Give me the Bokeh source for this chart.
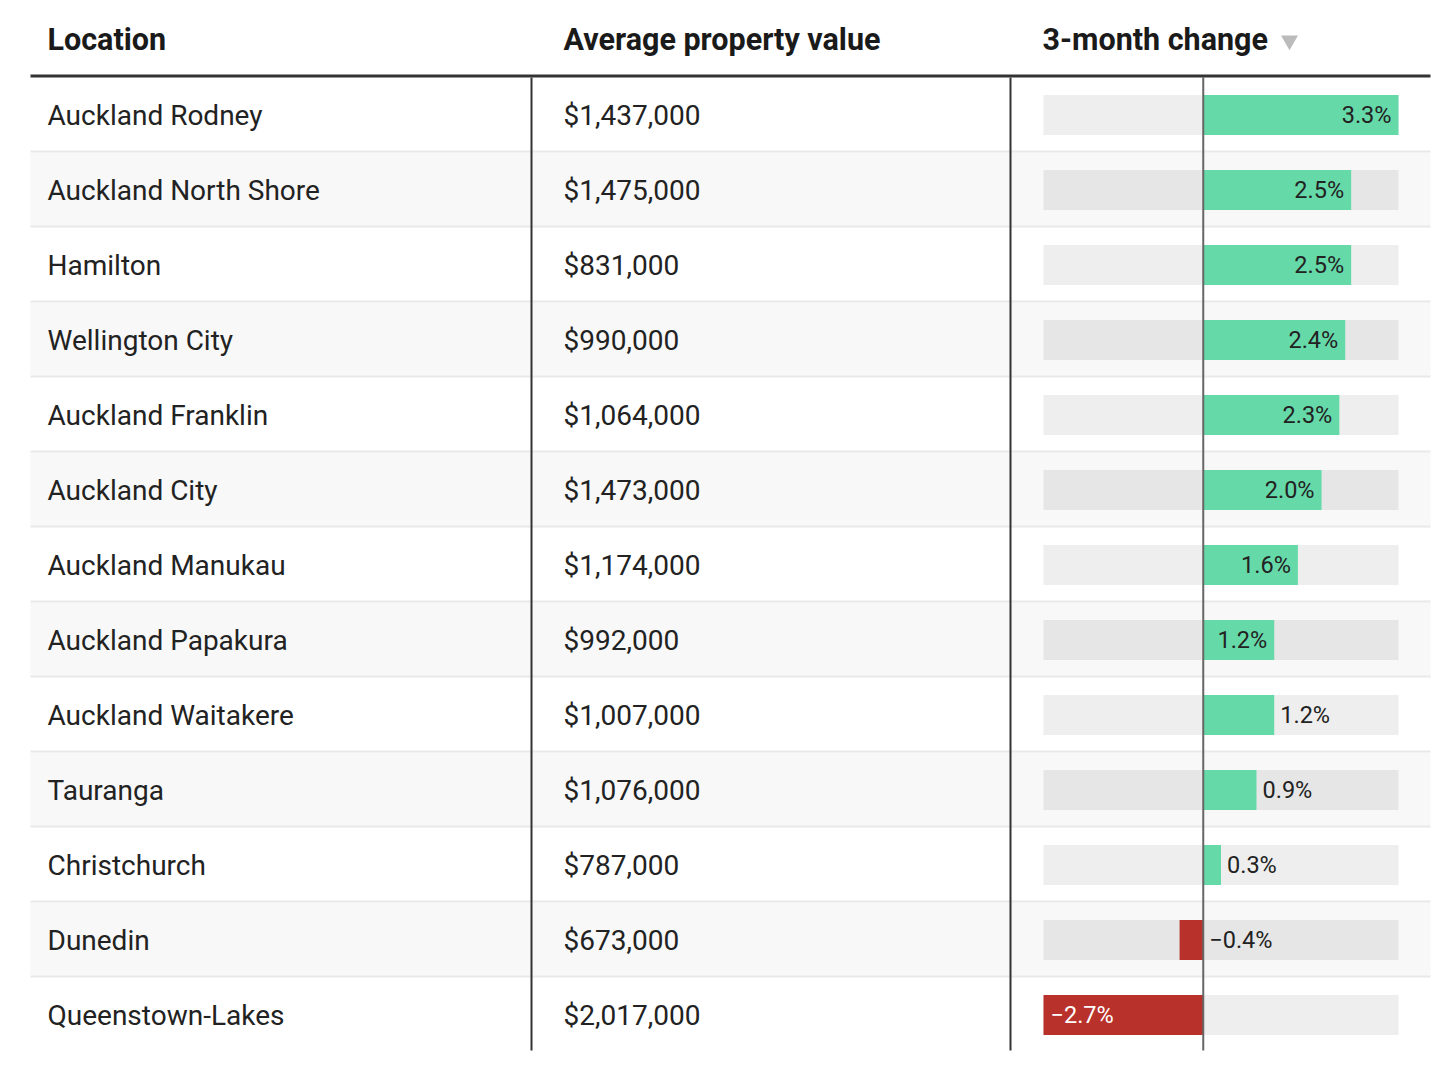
from bokeh.plotting import figure
from bokeh.models import ColumnDataSource, Range1d
from bokeh.core.properties import value
from bokeh.embed import file_html
from bokeh.resources import INLINE

# ---------------- data ----------------
locations = ["Auckland Rodney", "Auckland North Shore", "Hamilton", "Wellington City",
             "Auckland Franklin", "Auckland City", "Auckland Manukau", "Auckland Papakura",
             "Auckland Waitakere", "Tauranga", "Christchurch", "Dunedin", "Queenstown-Lakes"]
property_values = [1437000, 1475000, 831000, 990000, 1064000, 1473000, 1174000,
                   992000, 1007000, 1076000, 787000, 673000, 2017000]
change_3m = [3.3, 2.5, 2.5, 2.4, 2.3, 2.0, 1.6, 1.2, 1.2, 0.9, 0.3, -0.4, -2.7]
label_inside = [True, True, True, True, True, True, True, True, False, False, False, False, True]
headers = ["Location", "Average property value", "3-month change"]

# ---------------- layout (canvas px) ----------------
W, H = 1440, 1066
TABLE_L, TABLE_R = 30, 1430
ROW_TOP, ROW_H = 77, 75
COL_X = [531, 1010]
TEXT_X = [47, 563, 1042]
BAR_L, BAR_R, BAR_H = 1043, 1398, 40
FONT = "Roboto"
TXT = "#222222"

n = len(locations)
vmin, vmax = min(change_3m), max(change_3m)
scale = (BAR_R - BAR_L) / (vmax - vmin)
pct_start = vmin - BAR_L / scale
pct_end = pct_start + W / scale

p = figure(width=W, height=H, x_range=Range1d(0, W), y_range=Range1d(H, 0),
           x_axis_type=None, y_axis_type=None, toolbar_location=None,
           output_backend="svg", min_border=0)
p.outline_line_color = None
p.grid.visible = False
p.background_fill_color = "white"
p.border_fill_color = "white"
p.extra_x_ranges = {"pct": Range1d(pct_start, pct_end)}

yc = [ROW_TOP + ROW_H * i + ROW_H / 2 for i in range(n)]
row_fill = ["#ffffff" if i % 2 == 0 else "#f8f8f8" for i in range(n)]
track_fill = ["#eeeeee" if i % 2 == 0 else "#e6e6e6" for i in range(n)]

# row backgrounds
p.hbar(y=yc, left=TABLE_L, right=TABLE_R, height=ROW_H, fill_color=row_fill, line_color=None)
# separators
sep_y = [ROW_TOP + ROW_H * (i + 1) - 1 for i in range(n - 1)]
p.segment(x0=TABLE_L, x1=TABLE_R, y0=sep_y, y1=sep_y, line_color="#e9e9e9", line_width=2)

# tracks and bars
src = ColumnDataSource(dict(y=yc, v=change_3m, track=track_fill,
                            color=["#66d9a9" if v >= 0 else "#b8312b" for v in change_3m]))
p.hbar(y="y", left=vmin, right=vmax, height=BAR_H, fill_color="track", line_color=None,
       source=src, x_range_name="pct")
p.hbar(y="y", left=0, right="v", height=BAR_H, fill_color="color", line_color=None,
       source=src, x_range_name="pct")

# vertical lines
p.segment(x0=COL_X, x1=COL_X, y0=ROW_TOP, y1=ROW_TOP + ROW_H * n - 2, line_color="#333333", line_width=2)
p.segment(x0=0, x1=0, y0=ROW_TOP, y1=ROW_TOP + ROW_H * n - 2, line_color="#666666", line_width=2,
          x_range_name="pct")
# header line
p.segment(x0=TABLE_L, x1=TABLE_R, y0=75.5, y1=75.5, line_color="#333333", line_width=3)

# header texts
p.text(x=TEXT_X, y=[38.5] * 3, text=headers, text_font=value(FONT), text_font_style="bold",
       text_font_size="30.5px", text_color="#1a1a1a", text_baseline="middle")
p.scatter(x=[1289], y=[40], marker="inverted_triangle", size=17, fill_color="#bbbbbb", line_color=None)

# body texts
p.text(x=TEXT_X[0], y=yc, text=locations, text_font=value(FONT), text_font_size="28px",
       text_color=TXT, text_baseline="middle")
p.text(x=TEXT_X[1], y=yc, text=[f"${v:,.0f}" for v in property_values], text_font=value(FONT),
       text_font_size="28px", text_color=TXT, text_baseline="middle")

# bar labels
def fmt(v):
    s = f"{abs(v):.1f}%"
    return ("\u2212" + s) if v < 0 else s

L = dict(x=[], y=[], t=[], c=[], o=[])
R = dict(x=[], y=[], t=[])
for v, y, ins in zip(change_3m, yc, label_inside):
    if v >= 0 and ins:
        R["x"].append(v); R["y"].append(y); R["t"].append(fmt(v))
    elif v >= 0:
        L["x"].append(v); L["y"].append(y); L["t"].append(fmt(v)); L["c"].append(TXT); L["o"].append(6)
    elif ins:
        L["x"].append(v); L["y"].append(y); L["t"].append(fmt(v)); L["c"].append("#ffffff"); L["o"].append(7)
    else:
        L["x"].append(0); L["y"].append(y); L["t"].append(fmt(v)); L["c"].append(TXT); L["o"].append(6)

p.text(x="x", y="y", text="t", source=ColumnDataSource(R), x_offset=-7, text_align="right",
       text_baseline="middle", text_font=value(FONT), text_font_size="23.5px", text_color=TXT,
       x_range_name="pct")
p.text(x="x", y="y", text="t", source=ColumnDataSource(L), x_offset="o", text_align="left",
       text_baseline="middle", text_font=value(FONT), text_font_size="23.5px", text_color="c",
       x_range_name="pct")

open("out.html", "w").write(file_html(p, INLINE))
